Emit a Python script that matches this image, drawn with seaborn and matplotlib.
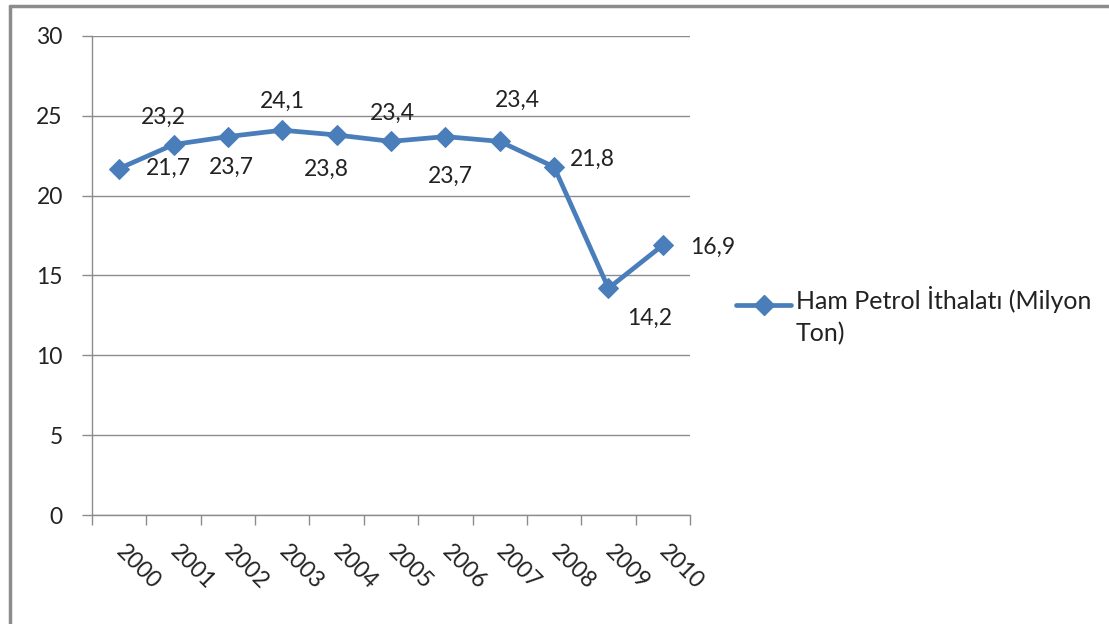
import matplotlib
matplotlib.use("Agg")
import matplotlib.pyplot as plt
from matplotlib.lines import Line2D
from matplotlib.legend_handler import HandlerLine2D
import seaborn as sns
import pandas as pd

# Crude oil imports (million tonnes), 2000-2010
years = ["2000", "2001", "2002", "2003", "2004", "2005",
         "2006", "2007", "2008", "2009", "2010"]
imports = [21.7, 23.2, 23.7, 24.1, 23.8, 23.4, 23.7, 23.4, 21.8, 14.2, 16.9]
series_name = "Ham Petrol İthalatı (Milyon\nTon)"
y_ticks = [0, 5, 10, 15, 20, 25, 30]

# placement of each value label relative to its point (pixels)
label_offsets = [(49, 0), (-10, 27), (3, -31), (0, 29), (-10, -34), (1, 28),
                 (5, -40), (18, 41), (38, 8), (41, -30), (50, -2)]

sns.set_theme(style="white")
plt.rcParams["font.family"] = ["Lato", "DejaVu Sans"]

FS = 16.5
LEG_FS = 18
BLUE = "#4A7EBB"
GRID = "#8C8C8C"
TEXT = "#222222"


class FirstLineHandler(HandlerLine2D):
    """Line handle aligned with the first line of a two-line legend label."""

    def __init__(self, lift, **kw):
        super().__init__(**kw)
        self.lift = lift

    def create_artists(self, legend, orig_handle, xdescent, ydescent,
                       width, height, fontsize, trans):
        return super().create_artists(legend, orig_handle, xdescent,
                                      ydescent - self.lift, width, height,
                                      fontsize, trans)


df = pd.DataFrame({"year": years, "value": imports})

fig = plt.figure(figsize=(11.09, 6.24), dpi=100)
ax = fig.add_axes([92 / 1109, 1 - 515 / 624, (690 - 92) / 1109, (515 - 36) / 624])

sns.lineplot(data=df, x="year", y="value", ax=ax, color=BLUE, linewidth=3.4,
             marker="D", markersize=10, markeredgecolor=BLUE, sort=False)

ax.set_xlim(-0.5, len(years) - 0.5)
ax.set_ylim(0, 30)
ax.set_yticks(y_ticks)
ax.set_yticklabels([str(t) for t in y_ticks], fontsize=FS, color=TEXT)
ax.yaxis.grid(True, color=GRID, linewidth=1)
ax.xaxis.grid(False)
ax.set_axisbelow(True)
ax.set_xlabel("")
ax.set_ylabel("")

# ticks at category boundaries, labels at category centers
ax.set_xticks([i - 0.5 for i in range(len(years) + 1)])
ax.set_xticklabels([])
ax.set_xticks(range(len(years)), minor=True)
ax.set_xticklabels(years, minor=True, rotation=-45, ha="left", va="center",
                   rotation_mode="anchor", fontsize=FS, color=TEXT)
ax.tick_params(axis="x", which="major", direction="out", length=7, width=1,
               color=GRID, bottom=True)
ax.tick_params(axis="x", which="minor", length=0, pad=24, bottom=True)
ax.tick_params(axis="y", direction="out", length=7, width=1, color=GRID,
               pad=14, left=True)

for side in ["top", "right"]:
    ax.spines[side].set_visible(False)
for side in ["left", "bottom"]:
    ax.spines[side].set_color(GRID)
    ax.spines[side].set_linewidth(1)

for i, (v, off) in enumerate(zip(imports, label_offsets)):
    ax.annotate(f"{v:.1f}".replace(".", ","), xy=(i, v), xytext=off,
                textcoords="offset pixels", ha="center", va="center",
                fontsize=FS, color=TEXT)

handle = Line2D([], [], color=BLUE, linewidth=3.4, marker="D", markersize=10)
leg = fig.legend([handle], [series_name], loc="upper left",
                 bbox_to_anchor=(736 / 1109, 1 - 286 / 624), frameon=False,
                 fontsize=LEG_FS, handlelength=2.2, handletextpad=0.2,
                 borderpad=0, borderaxespad=0, labelcolor=TEXT,
                 handler_map={Line2D: FirstLineHandler(lift=16)})
for t in leg.get_texts():
    t.set_linespacing(1.45)

# chart frame
fig.add_artist(Line2D([10 / 1109, 10 / 1109], [0, 1 - 6 / 624],
                      transform=fig.transFigure, color=GRID, linewidth=2.5))
fig.add_artist(Line2D([10 / 1109, 1], [1 - 6 / 624, 1 - 6 / 624],
                      transform=fig.transFigure, color=GRID, linewidth=2.5))

fig.savefig("out.png", dpi=100, facecolor="white")
